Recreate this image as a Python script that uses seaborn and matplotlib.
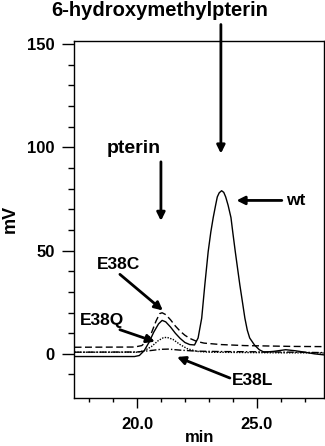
import matplotlib
matplotlib.use("Agg")
import matplotlib.pyplot as plt
from matplotlib.ticker import FixedLocator, FormatStrFormatter
import pandas as pd
import seaborn as sns

# retention time (min) / detector signal (mV)
wt_t = [17.4, 19.9, 20.1, 20.3, 20.5, 20.7, 20.9, 21.05, 21.2, 21.4, 21.6, 21.8,
        22.0, 22.2, 22.4, 22.55, 22.7, 22.83, 22.97, 23.08, 23.18, 23.28, 23.35,
        23.43, 23.53, 23.62, 23.7, 23.8, 23.92, 24.0, 24.1, 24.2, 24.29, 24.4,
        24.5, 24.6, 24.7, 24.9, 25.1, 25.3, 25.7, 26.2, 26.6, 27.0, 27.4, 27.8]
wt_mv = [-1.3, -1.3, -0.8, 1.5, 5.5, 10.5, 14.5, 16.2, 15.5, 13.0, 10.0, 7.5,
         5.5, 4.5, 4.3, 7.7, 17.3, 33.4, 49.5, 59.0, 66.0, 72.0, 76.0,
         78.0, 79.0, 78.2, 76.0, 72.0, 66.0, 58.5, 49.5, 41.0, 33.4, 25.0,
         17.3, 11.5, 7.7, 4.3, 2.0, 0.8, 1.2, 2.0, 1.5, 0.8, 0.0, -0.5]

e38c_t = [17.4, 19.9, 20.2, 20.4, 20.6, 20.8, 20.95, 21.05, 21.2, 21.4, 21.6, 21.8,
          22.0, 22.2, 22.5, 22.8, 23.5, 24.5, 25.5, 26.5, 27.8]
e38c_mv = [3.2, 3.3, 4.0, 6.0, 10.0, 16.0, 19.5, 19.9, 19.0, 16.5, 13.5, 11.0,
           9.0, 7.5, 6.0, 5.2, 4.5, 4.0, 3.8, 3.6, 3.5]

e38q_t = [17.4, 20.0, 20.3, 20.6, 20.9, 21.1, 21.25, 21.5, 21.8, 22.1, 22.5, 23.0,
          24.0, 25.0, 26.0, 27.0, 27.8]
e38q_mv = [0.8, 0.8, 1.5, 3.5, 6.5, 7.8, 8.0, 7.0, 4.5, 2.5, 1.2, 0.8,
           0.7, 0.6, 0.5, 0.5, 0.4]

e38l_t = [17.4, 20.0, 20.5, 21.0, 21.3, 21.8, 22.5, 23.5, 25.0, 26.5, 27.8]
e38l_mv = [0.8, 0.9, 1.5, 2.2, 2.3, 1.8, 1.3, 1.1, 1.0, 0.8, 0.6]

y_major = [0, 50, 100, 150]
y_minor = list(range(-10, 151, 10))
x_major = [20.0, 25.0]
x_minor = list(range(18, 28))

sns.set_style("ticks")
plt.rcParams['font.family'] = ['Liberation Sans', 'DejaVu Sans']
plt.rcParams['font.weight'] = 'bold'
plt.rcParams['text.color'] = 'black'
plt.rcParams['axes.labelcolor'] = 'black'
plt.rcParams['xtick.color'] = 'black'
plt.rcParams['ytick.color'] = 'black'

fig = plt.figure(figsize=(3.25, 4.46), dpi=100)
ax = fig.add_axes([0.228, 0.108, 0.769, 0.8])

series = [
    (wt_t, wt_mv, '-'),
    (e38c_t, e38c_mv, (0, (5, 2.5))),
    (e38q_t, e38q_mv, (0, (1, 1))),
    (e38l_t, e38l_mv, (0, (5, 1.5, 1, 1.5))),
]
for t, mv, ls in series:
    df = pd.DataFrame({'min': t, 'mV': mv})
    sns.lineplot(data=df, x='min', y='mV', ax=ax, color='black', lw=1.0,
                 linestyle=ls)

ax.set_xlim(17.38, 27.8)
ax.set_ylim(-21.3, 151.5)
ax.yaxis.set_major_locator(FixedLocator(y_major))
ax.yaxis.set_minor_locator(FixedLocator(y_minor))
ax.xaxis.set_major_locator(FixedLocator(x_major))
ax.xaxis.set_minor_locator(FixedLocator(x_minor))
ax.xaxis.set_major_formatter(FormatStrFormatter('%.1f'))
ax.tick_params(axis='y', which='major', length=8.6, width=1, labelsize=12, pad=5.5)
ax.tick_params(axis='y', which='minor', length=4.3, width=1)
ax.tick_params(axis='x', which='major', length=7.2, width=1, labelsize=12, pad=6.5)
ax.tick_params(axis='x', which='minor', length=3.2, width=1)
for lab in ax.get_xticklabels() + ax.get_yticklabels():
    lab.set_fontweight('bold')
for sp in ax.spines.values():
    sp.set_color('black')
    sp.set_linewidth(1)

ax.set_xlabel('min', fontsize=12, fontweight='bold', labelpad=-1)
ax.set_ylabel('mV', fontsize=13, fontweight='bold', labelpad=6)

arrow = dict(arrowstyle='-|>', color='black', lw=2, mutation_scale=12,
             shrinkA=0, shrinkB=0)

ax.text(20.96, 166.5, '6-hydroxymethylpterin', ha='center', va='center',
        fontsize=14.5, fontweight='bold', clip_on=False)
ax.annotate('', xy=(23.5, 97), xytext=(23.5, 159.5), arrowprops=arrow,
            annotation_clip=False)

ax.text(19.87, 99.5, 'pterin', ha='center', va='center', fontsize=14, fontweight='bold')
ax.annotate('', xy=(21.0, 64.4), xytext=(21.0, 93), arrowprops=arrow)

ax.text(26.6, 74.3, 'wt', ha='center', va='center', fontsize=12.5, fontweight='bold')
ax.annotate('', xy=(24.15, 74.3), xytext=(26.04, 74.3), arrowprops=arrow)

ax.text(19.22, 43.4, 'E38C', ha='center', va='center', fontsize=12.5, fontweight='bold')
ax.annotate('', xy=(21.08, 21), xytext=(19.29, 38.5), arrowprops=arrow)

ax.text(18.56, 16.2, 'E38Q', ha='center', va='center', fontsize=12.5, fontweight='bold')
ax.annotate('', xy=(20.75, 5.9), xytext=(19.29, 11.7), arrowprops=arrow)

ax.text(24.81, -12.7, 'E38L', ha='center', va='center', fontsize=12.5, fontweight='bold')
ax.annotate('', xy=(21.67, -1.5), xytext=(23.875, -11.7), arrowprops=arrow)

fig.savefig('out.png', dpi=100)
